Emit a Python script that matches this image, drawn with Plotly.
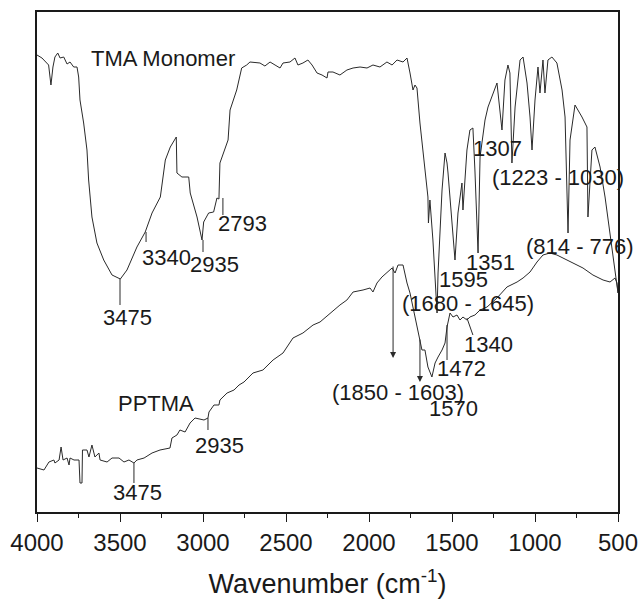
import plotly.graph_objects as go

# ---- data (wavenumber in cm-1, transmittance in arbitrary units) ----
tma_wn = [4000, 3970, 3930, 3916, 3904, 3892, 3875, 3861, 3839, 3819, 3801, 3779, 3759, 3749,
          3741, 3719, 3699, 3689, 3669, 3639, 3598, 3548, 3498, 3458, 3398, 3348, 3307, 3257,
          3227, 3197, 3161, 3157, 3127, 3086, 3077, 3036, 3006, 2996, 2966, 2936, 2916, 2904,
          2898, 2849, 2837, 2797, 2767, 2737, 2717, 2657, 2627, 2596, 2566, 2536, 2518, 2476,
          2446, 2428, 2398, 2368, 2343, 2313, 2283, 2253, 2247, 2217, 2175, 2133, 2096, 2054,
          2012, 1976, 1934, 1892, 1861, 1831, 1795, 1771, 1753, 1735, 1723, 1711, 1693, 1663,
          1645, 1642, 1633, 1615, 1590, 1584, 1560, 1542, 1530, 1524, 1512, 1482, 1464, 1440,
          1434, 1410, 1392, 1374, 1362, 1343, 1331, 1301, 1283, 1241, 1229, 1199, 1181, 1163,
          1151, 1139, 1120, 1090, 1072, 1048, 1030, 1018, 1000, 982, 970, 952, 940, 922, 898,
          868, 837, 819, 801, 789, 759, 717, 687, 681, 657, 639, 608, 578, 536, 500]
tma_t = [91.4, 90.8, 89.4, 85.4, 89.0, 91.0, 91.8, 90.8, 91.0, 89.6, 90.0, 89.0, 89.0, 87.0,
         82.4, 77.8, 72.4, 66.4, 59.0, 53.8, 50.4, 47.4, 46.6, 48.4, 53.0, 56.0, 59.8, 63.0,
         70.4, 73.0, 75.0, 67.8, 67.0, 67.0, 63.8, 59.0, 54.4, 58.0, 59.8, 60.0, 62.8, 62.6,
         69.8, 74.4, 80.4, 84.4, 88.8, 89.4, 90.0, 89.8, 89.2, 90.0, 89.4, 88.8, 89.8, 90.0,
         90.8, 89.4, 89.8, 90.4, 89.4, 87.8, 87.4, 86.8, 88.0, 88.0, 87.4, 88.4, 88.8, 89.0,
         88.8, 89.4, 89.0, 90.0, 89.4, 90.4, 90.0, 90.8, 87.8, 84.4, 85.4, 84.8, 77.8, 69.0,
         63.0, 57.8, 62.4, 54.4, 39.8, 47.8, 64.4, 71.8, 69.8, 67.8, 63.0, 50.4, 59.8, 65.8,
         60.4, 72.4, 76.4, 76.8, 68.4, 51.8, 71.0, 78.4, 81.0, 85.0, 85.8, 76.4, 86.4, 89.4,
         87.8, 69.8, 81.0, 90.4, 91.0, 85.8, 79.0, 72.4, 82.4, 89.0, 83.8, 90.4, 83.8, 90.4, 91.0,
         89.8, 84.4, 79.0, 55.8, 74.4, 81.4, 79.0, 77.0, 59.0, 72.4, 73.0, 69.0, 63.0, 53.0, 43.8]

pp_wn = [4000, 3958, 3928, 3898, 3892, 3867, 3855, 3843, 3819, 3807, 3801, 3777, 3747, 3741,
         3729, 3726, 3699, 3687, 3669, 3651, 3627, 3620, 3578, 3548, 3506, 3476, 3446, 3416,
         3398, 3355, 3307, 3259, 3199, 3187, 3157, 3139, 3108, 3078, 3048, 2994, 2970, 2964,
         2934, 2904, 2898, 2855, 2813, 2783, 2753, 2699, 2639, 2578, 2518, 2458, 2398, 2337,
         2295, 2235, 2175, 2133, 2096, 2036, 1994, 1976, 1952, 1922, 1892, 1861, 1843, 1825,
         1795, 1771, 1753, 1723, 1705, 1681, 1663, 1645, 1621, 1602, 1584, 1560, 1542, 1530,
         1512, 1494, 1470, 1452, 1434, 1410, 1392, 1362, 1331, 1289, 1229, 1169, 1108, 1072,
         1030, 988, 952, 910, 868, 831, 771, 711, 651, 590, 548, 518, 506, 500]
pp_t = [8.8, 8.4, 10.0, 10.4, 9.8, 10.4, 13.0, 10.4, 10.8, 9.4, 10.8, 10.4, 10.4, 5.8,
        5.8, 12.4, 12.4, 11.0, 13.4, 11.0, 11.8, 10.4, 10.0, 10.8, 10.8, 10.0, 10.4, 9.8,
        10.4, 10.8, 11.8, 12.4, 12.8, 14.8, 15.4, 16.4, 16.0, 17.8, 18.8, 18.4, 18.8, 20.0,
        21.4, 21.4, 22.4, 23.8, 24.4, 25.4, 26.0, 27.8, 28.4, 30.4, 31.8, 34.8, 35.8, 37.4,
        38.0, 39.8, 41.4, 42.4, 44.0, 44.4, 44.8, 44.0, 45.8, 47.0, 47.8, 48.8, 47.8, 49.4,
        49.4, 45.8, 43.8, 39.0, 36.4, 32.4, 32.4, 29.0, 27.0, 29.8, 31.0, 32.4, 33.8, 37.0,
        39.8, 39.0, 39.4, 38.4, 39.0, 38.4, 39.0, 39.4, 40.4, 41.0, 42.8, 45.0, 46.0, 46.8,
        48.0, 50.0, 51.4, 51.8, 51.4, 50.8, 49.8, 48.8, 47.4, 46.4, 46.0, 46.8, 45.8, 43.8]

x_ticks = [4000, 3500, 3000, 2500, 2000, 1500, 1000, 500]

labels = ["TMA Monomer", "3340", "2935", "2793", "3475", "1307", "(1223 - 1030)", "1351",
          "1595", "(814 - 776)", "(1680 - 1645)", "1340", "1472", "(1850 - 1603)", "1570",
          "PPTMA", "2935", "3475"]
label_x = [3241, 3217, 2928, 2765, 3452, 1223, 861, 1271, 1428, 729, 1404, 1283, 1440, 1825,
           1494, 3283, 2898, 3392]
label_y = [90.8, 51.0, 49.6, 57.8, 39.0, 72.8, 67.0, 50.0, 46.6, 53.2, 41.8, 33.6, 28.8, 24.0,
           20.8, 21.8, 13.4, 4.0]

# marker ticks: (x0, y0, x1, y1)
markers = [(3500, 46.6, 3500, 41.4), (3343, 56.0, 3343, 54.0), (3000, 54.4, 3000, 52.0),
           (2880, 62.8, 2880, 59.4), (2970, 18.8, 2970, 16.4), (3416, 9.8, 3416, 5.8),
           (1530, 37.4, 1530, 30.4), (1410, 38.8, 1374, 35.4)]
arrows = [(1855, 49.4, 1855, 30.8), (1693, 34.8, 1693, 26.0)]

FONT = "Liberation Sans, Arial, sans-serif"
LINE = "#2a2a2a"

fig = go.Figure()
fig.add_trace(go.Scatter(x=tma_wn, y=tma_t, mode="lines", line=dict(color=LINE, width=1),
                         showlegend=False, hoverinfo="skip"))
fig.add_trace(go.Scatter(x=pp_wn, y=pp_t, mode="lines", line=dict(color=LINE, width=1),
                         showlegend=False, hoverinfo="skip"))

for t, lx, ly in zip(labels, label_x, label_y):
    fig.add_annotation(x=lx, y=ly, text=t, showarrow=False, xref="x", yref="y",
                       font=dict(family=FONT, size=22, color="#1a1a1a"),
                       xanchor="center", yanchor="middle")

for x0, y0, x1, y1 in markers:
    fig.add_shape(type="line", x0=x0, y0=y0, x1=x1, y1=y1, xref="x", yref="y",
                  line=dict(color=LINE, width=1))

for x0, y0, x1, y1 in arrows:
    fig.add_annotation(x=x1, y=y1, ax=x0, ay=y0, xref="x", yref="y", axref="x", ayref="y",
                       text="", showarrow=True, arrowhead=2, arrowsize=1.2, arrowwidth=1,
                       arrowcolor=LINE)

fig.update_layout(
    width=640, height=599,
    margin=dict(l=37, r=22, t=12, b=87, autoexpand=False),
    paper_bgcolor="white", plot_bgcolor="white",
    font=dict(family=FONT, color="#1a1a1a"),
    xaxis=dict(range=[4000, 500], tickvals=x_ticks, ticks="outside", ticklen=8, tickwidth=1.2,
               tickcolor="#1a1a1a", automargin=False,
               minor=dict(dtick=250, ticks="outside", ticklen=4, tickwidth=1.2, tickcolor="#1a1a1a"),
               showline=True, linecolor="#1a1a1a", linewidth=1.5, mirror=True,
               showgrid=False, zeroline=False,
               tickfont=dict(family=FONT, size=24, color="#1a1a1a"),
               title=dict(text="Wavenumber (cm<sup>-1</sup>)", standoff=29,
                          font=dict(family=FONT, size=27, color="#1a1a1a"))),
    yaxis=dict(range=[0, 100], showticklabels=False, ticks="", showline=True, automargin=False,
               linecolor="#1a1a1a", linewidth=1.5, mirror=True, showgrid=False, zeroline=False),
)

fig.write_html("out.html")
